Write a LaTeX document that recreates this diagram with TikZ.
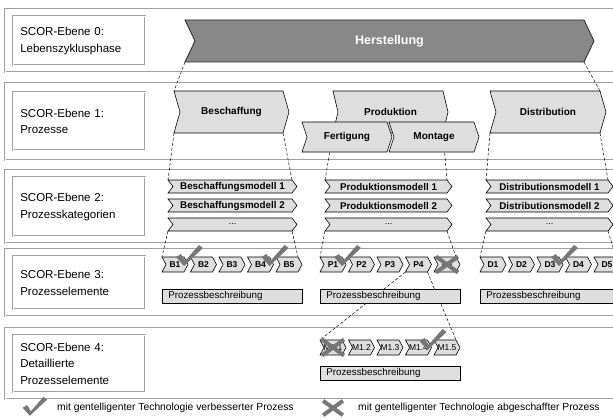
\documentclass[tikz,border=0pt]{standalone}
\usepackage{fontspec}
\setmainfont{Liberation Sans}
\usetikzlibrary{calc}
\definecolor{framegray}{HTML}{A0A0A0}
\definecolor{boxgray}{HTML}{DEDEDE}
\definecolor{darkbox}{HTML}{888888}
\definecolor{markgray}{HTML}{777777}
\tikzset{
  every picture/.style={
    line join=miter
  },
  frame/.style={
    draw=framegray, line width=0.6pt,
    double=white, double distance=0.8pt
  },
  lblbox/.style={
    frame, fill=white, anchor=north west,
    text width=118pt, inner xsep=7pt, align=left,
    font=\fontsize{11.5}{16.5}\selectfont
  },
  phase/.style={draw=black!85, line width=0.8pt, fill=darkbox},
  phase text/.style={inner sep=0pt, text=white, font=\bfseries\fontsize{12.5}{14}\selectfont},
  proc/.style={draw=black, line width=0.6pt, fill=boxgray},
  proc text/.style={inner sep=0pt, font=\bfseries\fontsize{10}{11}\selectfont},
  cat/.style={proc},
  cat text/.style={inner sep=0pt, font=\bfseries\fontsize{9.8}{11}\selectfont},
  elem/.style={proc},
  elem text/.style={inner sep=0pt, font=\bfseries\fontsize{8.5}{9}\selectfont},
  subelem/.style={proc},
  subelem text/.style={inner sep=0pt, font=\fontsize{8.5}{9}\selectfont},
  descbox/.style={
    draw=black, line width=0.6pt, fill=boxgray, anchor=north west,
    minimum height=14pt, text width=128pt, inner xsep=6pt, inner ysep=0pt,
    align=left, font=\fontsize{9.8}{11}\selectfont
  },
  legend/.style={anchor=west, inner sep=0pt, font=\fontsize{10.3}{11}\selectfont},
  conn/.style={densely dashed, line width=0.5pt},
  okmark/.pic={
    \fill[markgray] (-7,-7) -- (-2,-10) -- (2,-3) -- (16,-19) -- (20,-16) -- (1,2) -- cycle;
  },
  nomark/.pic={
    \draw[markgray, line width=4pt] (-11,-8) -- (11,8) (-11,8) -- (11,-8);
  }
}
% chevron: [style] name, x, y, width, height, tip, text
\newcommand\chev[8][proc]{%
  \draw[#1] (#3,#4) -- ++(#5,0) -- ++(#7,#6/2) -- ++(-#7,#6/2) -- ++(-#5,0) -- ++(#7,-#6/2) -- cycle;
  \coordinate (#2-nw) at (#3,#4);
  \coordinate (#2-ne) at (#3+#5,#4);
  \coordinate (#2-sw) at (#3,#4+#6);
  \coordinate (#2-se) at (#3+#5,#4+#6);
  \node[#1 text] (#2) at (#3+#5/2+#7/2,#4+#6/2) {#8};
}

\begin{document}
\begin{tikzpicture}[x=1pt, y=-1pt]
  \useasboundingbox (0,0) rectangle (613,420);
  \clip (0,0) rectangle (613,420);

  % Ebenen
  \draw[frame] (5,9) rectangle (625,72);
  \draw[frame] (5,83) rectangle (625,160);
  \draw[frame] (5,170) rectangle (625,243);
  \draw[frame] (5,249) rectangle (625,316);
  \draw[frame] (5,328) rectangle (625,399);
  \node[lblbox, minimum height=49pt] (lvl0) at (13,16) {SCOR-Ebene 0:\\Lebenszyklusphase};
  \node[lblbox, minimum height=58pt] (lvl1) at (13,92) {SCOR-Ebene 1:\\Prozesse};
  \node[lblbox, minimum height=59pt] (lvl2) at (13,177) {SCOR-Ebene 2:\\Prozesskategorien};
  \node[lblbox, minimum height=53pt] (lvl3) at (13,256) {SCOR-Ebene 3:\\Prozesselemente};
  \node[lblbox, minimum height=57pt] (lvl4) at (13,335) {SCOR-Ebene 4:\\Detaillierte\\Prozesselemente};

  % Ebene 0 und 1
  \chev[phase]{herst}{185}{20}{399}{42}{10}{Herstellung}
  \chev[proc]{besch}{174}{91}{109}{42}{6}{Beschaffung}
  \chev[proc]{prod}{333}{91}{110}{42}{5}{Produktion}
  \chev[proc]{distr}{490}{91}{110}{42}{6}{Distribution}

  % Ebene 2
  \foreach \col/\xx/\ww/\kat in {b/168/124/Beschaffungs, p/325/122/Produktions, d/486/122/Distributions} {
    \chev[cat]{\col m1}{\xx}{180}{\ww}{13}{5}{\kat modell 1}
    \chev[cat]{\col m2}{\xx}{199}{\ww}{13}{5}{\kat modell 2}
    \chev[cat]{\col m3}{\xx}{218}{\ww}{13}{5}{\mdseries\fontsize{9}{10}\selectfont ...}
  }

  % Ebene 3
  \foreach \col/\X/\L in {b/162/B, p/320/P, d/480/D} {
    \foreach \i [evaluate=\i as \xx using \X+28.5*(\i-1)] in {1,...,5} {
      \chev[elem]{\col\i}{\xx}{257}{22}{15}{4}{\L\i}
    }
  }

  % Ebene 4
  \foreach \i [evaluate=\i as \xx using 320+28.5*(\i-1)] in {1,...,5} {
    \chev[subelem]{m\i}{\xx}{340}{22}{15}{4}{M1.\i}
  }

  % Verbindungen
  \draw[conn] (herst-sw) -- (besch-nw);
  \draw[conn] (herst-se) -- (distr-ne);
  \draw[conn] (besch-sw) -- (bm1-nw);
  \draw[conn] (besch-se) -- (bm1-ne);
  \draw[conn] (prod-sw) -- (pm1-nw);
  \draw[conn] (prod-se) -- (pm1-ne);
  \draw[conn] (distr-sw) -- (dm1-nw);
  \draw[conn] (distr-se) -- (dm1-ne);
  \foreach \col in {b,p,d} {
    \draw[conn] (\col m3-sw) -- (\col1-nw);
    \draw[conn] (\col m3-se) -- (\col5-ne);
  }
  \draw[conn] (p4-sw) -- (m1-nw);
  \draw[conn] (p4-se) -- (m5-ne);

  % Fertigung und Montage vor Produktion
  \chev[proc]{fert}{302}{122}{85}{30}{5}{Fertigung}
  \chev[proc]{mont}{389}{122}{85}{30}{5}{Montage}

  \node[descbox] (bdesc) at (162,289) {Prozessbeschreibung};
  \node[descbox] (pdesc) at (320,289) {Prozessbeschreibung};
  \node[descbox] (ddesc) at (480,289) {Prozessbeschreibung};
  \node[descbox] (mdesc) at (320,366) {Prozessbeschreibung};

  % Markierungen
  \foreach \el in {b1,b4,p1,d3} {
    \pic at ($(\el-nw)+(21,7)$) {okmark};
  }
  \pic at ($(m4-nw)+(21,8)$) {okmark};
  \pic at (p5) {nomark};
  \pic at (m1) {nomark};

  % Legende
  \pic[scale=0.9] at (29,414) {okmark};
  \node[legend] (legok) at (57,408) {mit gentelligenter Technologie verbesserter Prozess};
  \pic[scale=0.9] at (333,408) {nomark};
  \node[legend] (legno) at (358,408) {mit gentelligenter Technologie abgeschaffter Prozess};
\end{tikzpicture}
\end{document}
